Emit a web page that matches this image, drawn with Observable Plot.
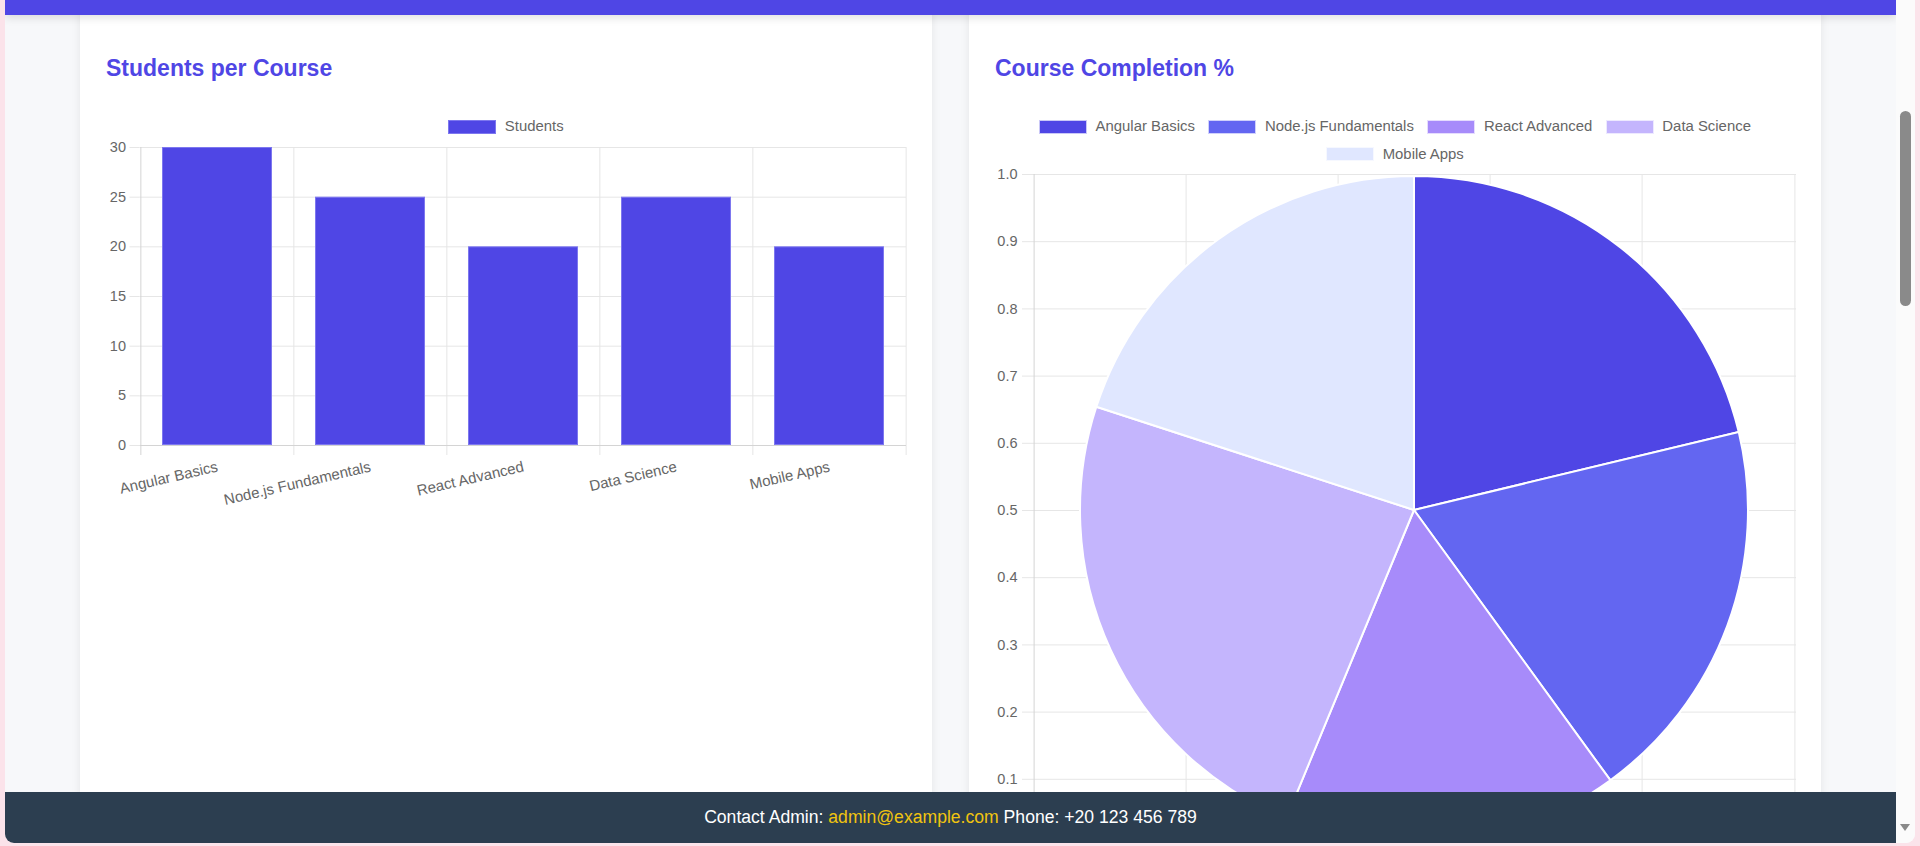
<!DOCTYPE html>
<html><head><meta charset="utf-8">
<script src="https://cdn.jsdelivr.net/npm/d3@7"></script>
<script src="https://cdn.jsdelivr.net/npm/@observablehq/plot@0.6"></script>
<style>
html,body{margin:0;padding:0;width:1920px;height:846px;overflow:hidden;background:#fbe3ea;font-family:"Liberation Sans",Arial,Helvetica,sans-serif;}
#win{position:absolute;left:5px;top:0;width:1910px;height:843px;background:#f7f8fa;overflow:hidden;border-radius:0 0 9px 9px;}
.card{position:absolute;top:-30px;width:852px;height:900px;background:#fff;box-shadow:0 2px 10px rgba(0,0,0,0.08);border-radius:8px;}
.title{position:absolute;font-weight:bold;font-size:23px;line-height:23px;color:#4f46e5;white-space:nowrap;}
.legend{position:absolute;display:flex;flex-wrap:wrap;justify-content:center;column-gap:13.5px;row-gap:10.6px;font-size:14.9px;color:#666;}
.item{display:flex;align-items:center;height:17px;line-height:17px;white-space:nowrap;}
.box{width:48px;height:14px;box-sizing:border-box;margin-right:8.5px;}
#header{position:absolute;left:0;top:0;width:1891px;height:15px;background:#4f46e5;box-shadow:0 3px 8px rgba(0,0,0,0.12);z-index:5;}
#footer{position:absolute;left:0;top:792px;width:1891px;height:51px;background:#2c3e50;color:#fff;font-size:17.6px;line-height:51px;text-align:center;z-index:5;white-space:nowrap;}
#footer .mail{color:#f1c40f;}
#scroll{position:absolute;left:1891px;top:0;width:19px;height:843px;background:#fbfbfb;z-index:6;}
#thumb{position:absolute;left:4px;top:111px;width:11px;height:195px;background:#8a8a8a;border-radius:6px;}
#arrow{position:absolute;left:4px;top:824px;width:0;height:0;border-left:5.5px solid transparent;border-right:5.5px solid transparent;border-top:7px solid #8a8a8a;}
.chart{position:absolute;}
</style></head>
<body>
<div id="win">
  <div class="card" style="left:75px"></div>
  <div class="card" style="left:964px"></div>
  <div class="title" style="left:101px;top:56.5px">Students per Course</div>
  <div class="title" style="left:990px;top:56.5px">Course Completion %</div>
  <div id="barLegend" class="legend" style="left:75px;top:118.2px;width:852px"></div>
  <div id="pieLegend" class="legend" style="left:1010px;top:118.2px;width:760px"></div>
  <div id="barChart" class="chart" style="left:75px;top:137px"></div>
  <div id="pieChart" class="chart" style="left:964px;top:164px"></div>
  <div id="header"></div>
  <div id="footer">Contact Admin: <span class="mail">admin@example.com</span> Phone: +20 123 456 789</div>
  <div id="scroll"><div id="thumb"></div><div id="arrow"></div></div>
</div>
<script>
// ---- data ----
const courses = ["Angular Basics", "Node.js Fundamentals", "React Advanced", "Data Science", "Mobile Apps"];
const students = [30, 25, 20, 25, 20];
const studentTicks = [0, 5, 10, 15, 20, 25, 30];
const completion = [85, 75, 65, 95, 80];
// visible tick labels of the pie chart's value axis (0.0 lies below the viewport)
const completionTicks = [0.1, 0.2, 0.3, 0.4, 0.5, 0.6, 0.7, 0.8, 0.9, 1.0];
const barSeriesName = "Students";
const barColor = "#4f46e5";
const pieColors = ["#4f46e5", "#6366f1", "#a78bfa", "#c4b5fd", "#e0e7ff"];

const font = '"Liberation Sans", Arial, Helvetica, sans-serif';
const gridColor = "#e6e6e6";
const axisColor = "#d4d4d4";

// ---- legends ----
function buildLegend(id, names, colors, border) {
  const el = document.getElementById(id);
  names.forEach((n, i) => {
    const item = document.createElement("div");
    item.className = "item";
    const box = document.createElement("span");
    box.className = "box";
    box.style.background = colors[i];
    box.style.border = border;
    item.appendChild(box);
    item.appendChild(document.createTextNode(n));
    el.appendChild(item);
  });
}
buildLegend("barLegend", [barSeriesName], [barColor], "1px solid #7d77ef");
buildLegend("pieLegend", courses, pieColors, "1px solid rgba(255,255,255,0.7)");

// ---- bar chart ----
const W = 852, bH = 380, bML = 59.5, bMR = 26, bMT = 10, bMB = 72;
const bStep = (W - bML - bMR) / courses.length;
const barRows = courses.map((c, i) => ({course: c, students: students[i]}));
const bar = Plot.plot({
  width: W, height: bH, marginLeft: bML, marginRight: bMR, marginTop: bMT, marginBottom: bMB,
  style: {fontFamily: font, fontSize: "14.5px", color: "#666", background: "transparent", overflow: "visible"},
  x: {type: "band", domain: courses, paddingInner: 0.28, paddingOuter: 0.14},
  y: {domain: [0, 30]},
  marks: [
    Plot.ruleY(studentTicks, {stroke: gridColor}),
    Plot.ruleX(courses.slice(1), {x: d => d, dx: -bStep / 2, stroke: gridColor, insetBottom: -10}),
    Plot.ruleX(courses.slice(-1), {x: d => d, dx: bStep / 2, stroke: gridColor, insetBottom: -10}),
    Plot.barY(barRows, {x: "course", y: "students", fill: barColor, stroke: "#7d77ef", strokeWidth: 1, inset: 0.5}),
    Plot.ruleX(courses.slice(0, 1), {x: d => d, dx: -bStep / 2, stroke: axisColor, insetBottom: -10}),
    Plot.ruleY([0], {stroke: axisColor}),
    Plot.axisY(studentTicks, {tickSize: 10, tickPadding: 4, stroke: gridColor, fill: "#666", label: null}),
    Plot.axisX({tickSize: 0, tickRotate: -13, textAnchor: "end", tickPadding: 21, fontSize: 15, fill: "#666", label: null})
  ]
});
document.getElementById("barChart").appendChild(bar);

// ---- pie chart (drawn over category/linear scales) ----
const pH = 722, pML = 63, pMR = 25, pMT = 10, pMB = 40;
const pStep = (W - pML - pMR) / courses.length;
const pieRows = courses.map((c, i) => ({course: c, completion: completion[i]}));
const pie = Plot.plot({
  width: W, height: pH, marginLeft: pML, marginRight: pMR, marginTop: pMT, marginBottom: pMB,
  style: {fontFamily: font, fontSize: "14.5px", color: "#666", background: "transparent", overflow: "visible"},
  x: {type: "band", domain: courses, padding: 0, axis: null},
  y: {domain: [0, 1]},
  color: {domain: courses, range: pieColors},
  marks: [
    Plot.ruleY(completionTicks, {stroke: gridColor}),
    Plot.ruleX(courses.slice(1), {x: d => d, dx: -pStep / 2, stroke: gridColor, insetBottom: -10}),
    Plot.ruleX(courses.slice(-1), {x: d => d, dx: pStep / 2, stroke: gridColor, insetBottom: -10}),
    Plot.ruleX(courses.slice(0, 1), {x: d => d, dx: -pStep / 2, stroke: axisColor, insetBottom: -10}),
    Plot.axisY(completionTicks, {tickSize: 10, tickPadding: 5, tickFormat: d3.format(".1f"), stroke: gridColor, fill: "#666", label: null}),
    Plot.dot(pieRows, {
      x: "course", fill: "course",
      render(index, scales, values, dims) {
        const fw = dims.width - dims.marginLeft - dims.marginRight;
        const fh = dims.height - dims.marginTop - dims.marginBottom;
        const cx = dims.marginLeft + fw / 2, cy = dims.marginTop + fh / 2;
        const r = Math.min(fw, fh) / 2 - 2;
        const arcs = d3.pie().sort(null).value(i => pieRows[i].completion)(Array.from(index));
        const g = d3.create("svg:g").attr("transform", `translate(${cx},${cy})`);
        g.selectAll("path").data(arcs).join("path")
          .attr("d", d3.arc().innerRadius(0).outerRadius(r))
          .attr("fill", a => values.fill[a.data])
          .attr("stroke", "#fff").attr("stroke-width", 2).attr("stroke-linejoin", "round");
        return g.node();
      }
    })
  ]
});
document.getElementById("pieChart").appendChild(pie);
</script>
</body></html>
